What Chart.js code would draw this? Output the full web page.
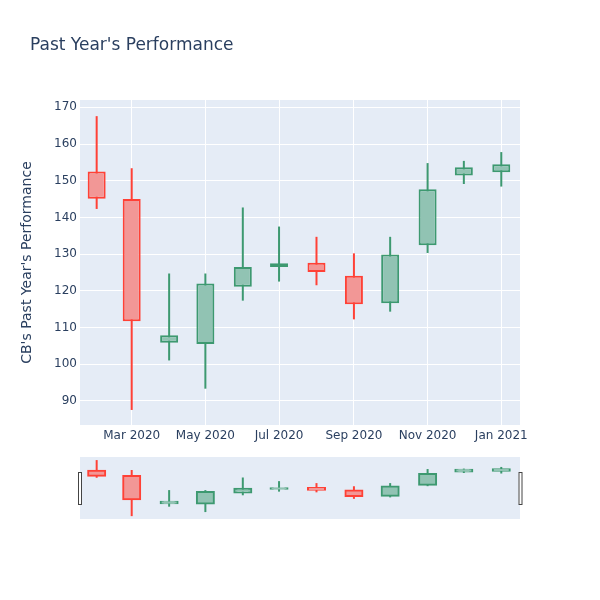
<!DOCTYPE html>
<html>
<head>
<meta charset="utf-8">
<script src="https://cdn.jsdelivr.net/npm/chart.js@4.4.0/dist/chart.umd.min.js"></script>
<style>
html, body { margin: 0; padding: 0; background: #fff; }
#wrap { position: relative; width: 600px; height: 600px; }
#main { position: absolute; left: 0; top: 0; }
#slider { position: absolute; left: 0; top: 450px; }
</style>
</head>
<body>
<div id="wrap">
  <canvas id="main" width="600" height="450"></canvas>
  <canvas id="slider" width="600" height="80"></canvas>
</div>
<script>
// monthly candles
const dates = ['2020-02-01', '2020-03-01', '2020-04-01', '2020-05-01', '2020-06-01', '2020-07-01',
               '2020-08-01', '2020-09-01', '2020-10-01', '2020-11-01', '2020-12-01', '2021-01-01'];
const open  = [152.5, 145.0, 105.8, 105.5, 121.1, 126.5, 127.6, 124.1, 116.6, 132.4, 151.4, 152.3];
const close = [145.1, 111.7, 107.9, 122.0, 126.5, 127.5, 125.1, 116.3, 129.9, 147.7, 153.7, 154.5];
const high  = [167.6, 153.4, 124.7, 124.7, 142.7, 137.5, 134.7, 130.2, 134.7, 154.8, 155.4, 157.8];
const low   = [142.3, 87.5, 101.0, 93.3, 117.3, 122.5, 121.5, 112.2, 114.3, 130.3, 149.1, 148.4];

const tickDates = ['2020-03-01', '2020-05-01', '2020-07-01', '2020-09-01', '2020-11-01', '2021-01-01'];
const tickLabels = ['Mar 2020', 'May 2020', 'Jul 2020', 'Sep 2020', 'Nov 2020', 'Jan 2021'];
const yTicks = [90, 100, 110, 120, 130, 140, 150, 160, 170];

const FONT = "'DejaVu Sans', sans-serif";
const TEXT = '#2a3f5f';
const PLOT_BG = '#E5ECF6';
const UP_LINE = '#3D9970', UP_FILL = '#91C3B3';
const DOWN_LINE = '#FF4136', DOWN_FILL = '#F29796';

const day = s => (Date.parse(s) - Date.parse('2020-01-01')) / 864e5;
const xMin = 17.2, xMax = 381.5;
const yMin = 83.4, yMax = 172;

Chart.defaults.font.family = FONT;

function candleSets(wickW, bodyW, inflate) {
  const sets = [];
  [[true, UP_LINE, UP_FILL], [false, DOWN_LINE, DOWN_FILL]].forEach(([up, line, fill]) => {
    const idx = dates.map((d, i) => i).filter(i => (close[i] >= open[i]) === up);
    sets.push({
      data: idx.map(i => ({ x: day(dates[i]), y: [low[i], high[i]] })),
      backgroundColor: line, borderWidth: 0,
      maxBarThickness: wickW, grouped: false, order: 2
    });
    sets.push({
      data: idx.map(i => ({ x: day(dates[i]), y: [open[i], close[i]] })),
      backgroundColor: fill, borderColor: line, borderWidth: 2, borderSkipped: false,
      inflateAmount: inflate,
      maxBarThickness: bodyW, grouped: false, order: 1
    });
  });
  return sets;
}

const plotBg = {
  id: 'plotBg',
  beforeDraw(chart) {
    const { ctx, chartArea: a } = chart;
    ctx.save();
    ctx.fillStyle = PLOT_BG;
    ctx.fillRect(a.left, a.top, a.right - a.left, a.bottom - a.top);
    ctx.restore();
  }
};

const titleText = {
  id: 'titleText',
  afterDraw(chart) {
    const ctx = chart.ctx;
    ctx.save();
    ctx.fillStyle = TEXT;
    ctx.font = '17px ' + FONT;
    ctx.textBaseline = 'middle';
    ctx.fillText("Past Year's Performance", 30, 46);
    ctx.restore();
  }
};

new Chart(document.getElementById('main'), {
  type: 'bar',
  data: { datasets: candleSets(2, 18, 'auto') },
  plugins: [plotBg, titleText],
  options: {
    responsive: false,
    animation: false,
    layout: { padding: { top: 100, right: 80, bottom: 0, left: 0 } },
    plugins: { legend: { display: false }, tooltip: { enabled: false } },
    scales: {
      x: {
        type: 'linear', min: xMin, max: xMax, offset: false,
        grid: { color: '#ffffff', lineWidth: 1, drawTicks: false, offset: false },
        border: { display: false },
        ticks: {
          color: TEXT, font: { size: 12 }, padding: 4, maxRotation: 0, autoSkip: false,
          callback: (v, i) => tickLabels[i]
        },
        afterBuildTicks: s => { s.ticks = tickDates.map(d => ({ value: day(d) })); },
        afterFit: s => { s.height = 25; }
      },
      y: {
        min: yMin, max: yMax,
        grid: { color: '#ffffff', lineWidth: 1, drawTicks: false },
        border: { display: false },
        ticks: { color: TEXT, font: { size: 12 }, padding: 3 },
        afterBuildTicks: s => { s.ticks = yTicks.map(v => ({ value: v })); },
        afterFit: s => { s.width = 80; },
        title: {
          display: true, text: "CB's Past Year's Performance",
          color: TEXT, font: { size: 14 }, padding: { top: 19, bottom: 0 }
        }
      }
    }
  }
});

// range slider
const handles = {
  id: 'handles',
  afterDraw(chart) {
    const { ctx, chartArea: a } = chart;
    const h = 32, top = a.top + (a.bottom - a.top - h) / 2;
    ctx.save();
    ctx.fillStyle = '#ffffff';
    ctx.strokeStyle = '#444444';
    ctx.lineWidth = 1;
    [a.left - 2, a.right - 1.5].forEach(x => {
      ctx.fillRect(x, top, 3.5, h);
      ctx.strokeRect(x + 0.5, top + 0.5, 3, h);
    });
    ctx.restore();
  }
};

new Chart(document.getElementById('slider'), {
  type: 'bar',
  data: { datasets: candleSets(2, 17, 1) },
  plugins: [plotBg, handles],
  options: {
    responsive: false,
    animation: false,
    layout: { padding: { top: 7, right: 80, bottom: 11, left: 80 } },
    plugins: { legend: { display: false }, tooltip: { enabled: false } },
    scales: {
      x: { type: 'linear', display: false, min: xMin, max: xMax, offset: false },
      y: { display: false, min: yMin, max: yMax }
    }
  }
});
</script>
</body>
</html>
